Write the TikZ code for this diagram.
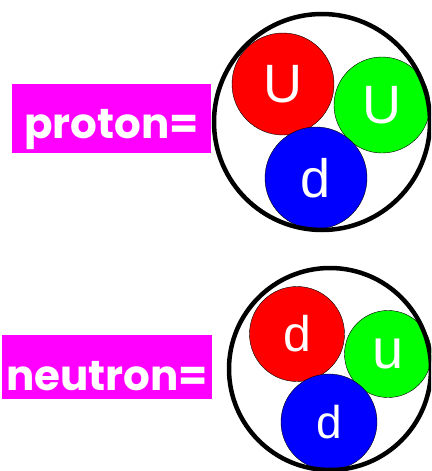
\documentclass[tikz,border=0pt]{standalone}
\usepackage{fontspec}
\setmainfont{Liberation Sans}
\newfontfamily\tagfont{Poppins}
\definecolor{tagpink}{RGB}{255,0,255}
\definecolor{qred}{RGB}{255,0,0}
\definecolor{qgreen}{RGB}{0,255,0}
\definecolor{qblue}{RGB}{0,0,255}

\begin{document}
\begin{tikzpicture}[x=1pt, y=-1pt,
  quark/.style={circle, draw, thin, inner sep=0pt, text=white, font=\fontsize{54}{54}\selectfont},
  hadron/.style={circle, draw, line width=4.5pt, inner sep=0pt},
  tag/.style={fill=tagpink, inner sep=0pt, text=white, font=\tagfont\bfseries\fontsize{42}{42}\selectfont}]
\useasboundingbox (0,0) rectangle (431,471);
\clip (0,0) rectangle (431,471);

% proton
\node[tag, minimum width=199pt, text height=54pt, text depth=15pt] (ptag) at (111.5,118.5) {proton=};
\node[quark, fill=qred, minimum size=102pt] (pu1) at (283,84) {U};
\node[quark, fill=qgreen, minimum size=96pt] (pu2) at (382,105) {U};
\node[quark, fill=qblue, minimum size=102pt] (pd) at (316,178) {d};
\node[hadron, minimum size=216pt] (p) at (322,122) {};

% neutron
\node[tag, minimum width=210pt, text height=55pt, text depth=9pt] (ntag) at (107,367) {neutron=};
\node[quark, fill=qred, minimum size=95pt, font=\fontsize{50}{50}\selectfont] (nd1) at (297,334) {d};
\node[quark, fill=qgreen, minimum size=87pt, font=\fontsize{56}{56}\selectfont] (nu) at (388,354) {u};
\node[quark, fill=qblue, minimum size=96pt, font=\fontsize{46}{46}\selectfont] (nd2) at (329,422) {d};
\node[hadron, minimum size=202pt] (n) at (330,369) {};
\end{tikzpicture}
\end{document}
